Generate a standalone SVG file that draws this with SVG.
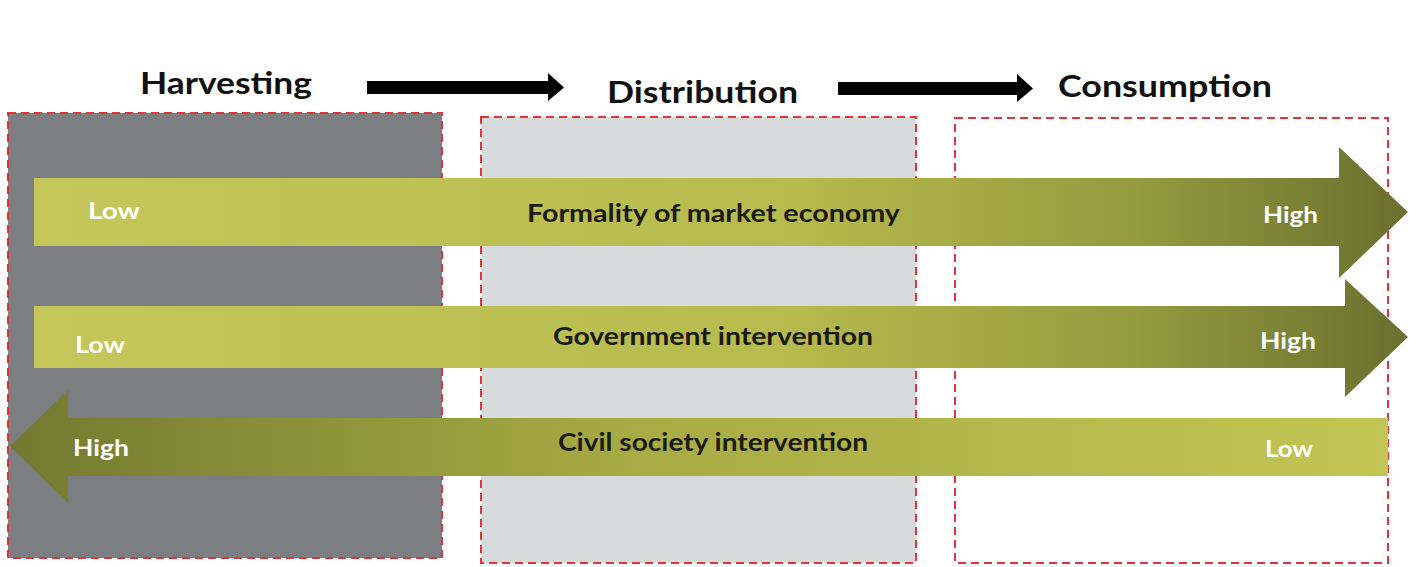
<svg xmlns="http://www.w3.org/2000/svg" width="1425" height="567" viewBox="0 0 1425 567">
  <defs>
    <linearGradient id="gradRight" x1="0" y1="0" x2="1" y2="0">
      <stop offset="0" stop-color="#c6c75a"/>
      <stop offset="0.55" stop-color="#b7ba4c"/>
      <stop offset="0.8" stop-color="#959b3f"/>
      <stop offset="1" stop-color="#6a702e"/>
    </linearGradient>
    <linearGradient id="gradLeft" x1="0" y1="0" x2="1" y2="0">
      <stop offset="0" stop-color="#737a30"/>
      <stop offset="0.45" stop-color="#a7ab43"/>
      <stop offset="1" stop-color="#c3c553"/>
    </linearGradient>
    <style>
      .stage { stroke: #e0343a; stroke-width: 2; stroke-dasharray: 8 5; }
      .title { font-family: Lato, "Open Sans", "Liberation Sans", sans-serif; font-weight: 700; font-size: 31px; fill: #111; }
      .band { font-family: Lato, "Open Sans", "Liberation Sans", sans-serif; font-weight: 700; font-size: 24px; fill: #1a1a10; }
      .level { font-family: Lato, "Open Sans", "Liberation Sans", sans-serif; font-weight: 700; font-size: 22px; fill: #ffffff; }
      .flow { fill: #000; }
    </style>
  </defs>

  <rect width="1425" height="567" fill="#ffffff"/>

  <!-- stage panels -->
  <g id="stage-harvesting">
    <rect class="stage" x="8" y="113" width="434" height="445" fill="#7d7e82"/>
    <text class="title" x="140" y="94" textLength="172" lengthAdjust="spacingAndGlyphs">Harvesting</text>
  </g>
  <g id="stage-distribution">
    <rect class="stage" x="481" y="117" width="435" height="446" fill="#d7dadb"/>
    <text class="title" x="607" y="103" textLength="191" lengthAdjust="spacingAndGlyphs">Distribution</text>
  </g>
  <g id="stage-consumption">
    <rect class="stage" x="955" y="118" width="433" height="445" fill="#ffffff"/>
    <text class="title" x="1058" y="97" textLength="214" lengthAdjust="spacingAndGlyphs">Consumption</text>
  </g>

  <!-- flow arrows between stage titles -->
  <g id="connectors">
    <path class="flow" d="M367 81 H548 V73 L564 87.5 L548 101 V94 H367 Z"/>
    <path class="flow" d="M838 82 H1017 V74 L1033 88.5 L1017 102 V95 H838 Z"/>
  </g>

  <!-- indicator bands -->
  <g id="band-formality">
    <path d="M34 178 H1339 V147 L1408 212 L1339 278 V246 H34 Z" fill="url(#gradRight)"/>
    <text class="level" x="88" y="219" textLength="52" lengthAdjust="spacingAndGlyphs">Low</text>
    <text class="band" x="527" y="222" textLength="373" lengthAdjust="spacingAndGlyphs">Formality of market economy</text>
    <text class="level" x="1263" y="223" textLength="55" lengthAdjust="spacingAndGlyphs">High</text>
  </g>

  <g id="band-government">
    <path d="M34 306 H1345 V279 L1408 337 L1345 397 V368 H34 Z" fill="url(#gradRight)"/>
    <text class="level" x="75" y="353" textLength="50" lengthAdjust="spacingAndGlyphs">Low</text>
    <text class="band" x="553" y="345" textLength="320" lengthAdjust="spacingAndGlyphs">Government intervention</text>
    <text class="level" x="1260" y="349" textLength="56" lengthAdjust="spacingAndGlyphs">High</text>
  </g>

  <g id="band-civil-society">
    <path d="M1388 418 H68 V390 L10 446 L68 503 V476 H1388 Z" fill="url(#gradLeft)"/>
    <text class="level" x="73" y="456" textLength="56" lengthAdjust="spacingAndGlyphs">High</text>
    <text class="band" x="558" y="451" textLength="310" lengthAdjust="spacingAndGlyphs">Civil society intervention</text>
    <text class="level" x="1265" y="457" textLength="48" lengthAdjust="spacingAndGlyphs">Low</text>
  </g>
</svg>
